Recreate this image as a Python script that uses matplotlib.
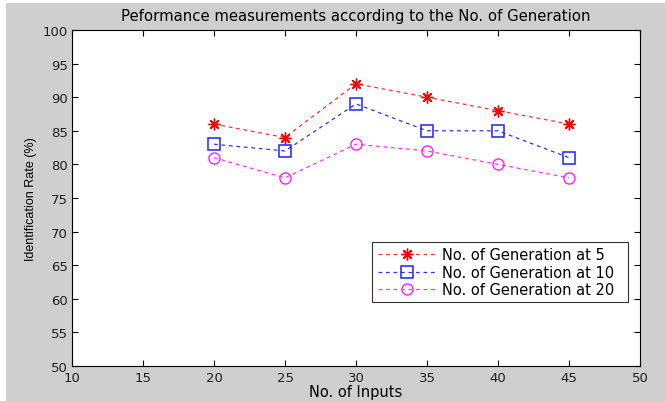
import matplotlib
matplotlib.use("Agg")
import matplotlib.pyplot as plt
from matplotlib.patches import Rectangle

plt.rcParams['font.family'] = ['DejaVu Sans']

inputs = [20, 25, 30, 35, 40, 45]
gen5 = [86, 84, 92, 90, 88, 86]
gen10 = [83, 82, 89, 85, 85, 81]
gen20 = [81, 78, 83, 82, 80, 78]
labels = ["No. of Generation at 5", "No. of Generation at 10", "No. of Generation at 20"]
xticks = [10, 15, 20, 25, 30, 35, 40, 45, 50]
yticks = [50, 55, 60, 65, 70, 75, 80, 85, 90, 95, 100]

fig = plt.figure(figsize=(6.65, 4.02), dpi=100, facecolor='white')
# gray MATLAB-like figure background with thin white edge
fig.patches.append(Rectangle((6 / 665, 0), 1 - 6 / 665, 1 - 4 / 402,
                             transform=fig.transFigure, facecolor='#cfcfcf',
                             edgecolor='none', zorder=-10))
ax = fig.add_axes([72 / 665, 1 - 367 / 402, (640 - 72) / 665, (367 - 31) / 402])
ax.set_facecolor('white')

ax.plot(inputs, gen5, linestyle='--', color='#ff3030', marker=(8, 2, 0), markersize=8.5,
        markeredgecolor='red', markeredgewidth=1.0, linewidth=0.9, label=labels[0], dashes=(3, 3))
ax.plot(inputs, gen10, linestyle='--', color='#3030ff', marker='s', markersize=8,
        markeredgecolor='#2020ff', markerfacecolor='none', markeredgewidth=1.1,
        linewidth=0.9, label=labels[1], dashes=(3, 3))
ax.plot(inputs, gen20, linestyle='--', color='#ff30ff', marker='o', markersize=8,
        markeredgecolor='#ff20ff', markerfacecolor='none', markeredgewidth=1.0,
        linewidth=0.9, label=labels[2], dashes=(3, 3))

ax.set_xlim(10, 50)
ax.set_ylim(50, 100)
ax.set_xticks(xticks)
ax.set_yticks(yticks)
ax.tick_params(direction='in', top=True, right=True, labelsize=9.5, length=4,
               width=0.8, labelcolor='#202020')
ax.tick_params(axis='x', pad=3.5)
ax.tick_params(axis='y', pad=3)
for s in ax.spines.values():
    s.set_linewidth(0.8)

ax.set_title("Peformance measurements according to the No. of Generation",
             fontsize=10.7, pad=7)
ax.set_xlabel("No. of Inputs", fontsize=10.5, labelpad=0)
ax.set_ylabel("Identification Rate (%)", fontsize=9, labelpad=4,
              family=['Liberation Sans', 'DejaVu Sans'])

leg = ax.legend(loc='upper left', bbox_to_anchor=(0.529, 0.368, 0.45, 0.0),
                mode='expand', borderaxespad=0,
                fontsize=10.5, frameon=True, fancybox=False, edgecolor='black',
                handlelength=4.0, handletextpad=0.4, labelspacing=0.15, borderpad=0.35)
leg.get_frame().set_linewidth(0.8)

fig.savefig("out.png", dpi=100, facecolor=fig.get_facecolor())
